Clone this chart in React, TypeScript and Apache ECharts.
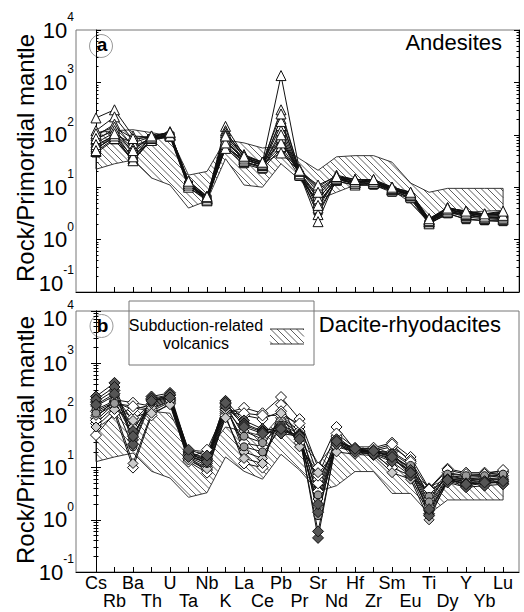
import React, { useEffect, useRef } from "react";
import * as echarts from "echarts";

const FONT = "'Liberation Sans', Arial, Helvetica, sans-serif";

// Element order (primordial-mantle normalised spider diagram)
const elements = ["Cs", "Rb", "Ba", "Th", "U", "Ta", "Nb", "K", "La", "Ce", "Pb", "Pr", "Sr", "Nd", "Hf", "Zr", "Sm", "Eu", "Ti", "Dy", "Y", "Yb", "Lu"];

// Subduction-related volcanics field, panel a
const fieldALower = [22, 28, 33, 15, 11, 4, 5.5, 35, 11, 10, 28, 14, 5.8, 8, 11, 11, 9, 5, 2.1, 3, 3.3, 3.5, 3.6];
const fieldAUpper = [110, 120, 125, 110, 95, 17, 20, 80, 70, 56, 60, 35, 21, 38, 40, 40, 30, 12, 8, 9.5, 9.5, 9.5, 9.5];

// Subduction-related volcanics field, panel b
const fieldBLower = [13, 16, 19, 8.5, 6.3, 2.7, 3.3, 16, 8.5, 6, 18, 9, 3.5, 4.5, 8.4, 8.4, 3.2, 3.2, 1.3, 2.4, 2.4, 2.4, 2.4];
const fieldBUpper = [55, 100, 140, 120, 110, 22, 20, 60, 50, 40, 100, 50, 12, 30, 25, 25, 18, 8, 4.3, 6, 6, 6, 6];

// Andesites (triangles)
const andesiteTriangles: number[][] = [
  [210, 300, 95, 90, 115, 12, 6.2, 145, 40, 30, 1350, 21, 9, 16, 14, 13, 10, 8, 2.4, 4.0, 3.5, 3.0, 3.4],
  [120, 220, 80, 95, 110, 11, 6.0, 120, 36, 28, 300, 20, 6, 15, 13, 13, 9.5, 7.5, 2.2, 3.8, 3.2, 3.0, 3.0],
  [95, 160, 60, 85, 100, 12, 5.8, 90, 34, 26, 200, 19, 4, 15, 12, 12, 9, 7, 2.1, 3.5, 3.0, 2.7, 2.6],
  [80, 130, 45, 88, 105, 13, 6.5, 75, 33, 27, 150, 18, 3, 14, 12, 13, 9, 7.2, 2.3, 3.6, 3.3, 2.8, 2.8],
  [70, 110, 35, 82, 100, 11, 6, 60, 30, 25, 120, 18, 2.2, 15, 11, 12, 9, 6.8, 2.0, 3.4, 2.7, 2.5, 2.4],
  [55, 90, 32, 80, 95, 10, 5.5, 65, 31, 24, 90, 17, 5, 14, 12, 12, 8.5, 6.5, 2.2, 3.3, 2.9, 2.6, 2.5],
  [48, 85, 40, 78, 98, 12, 6.2, 55, 35, 26, 60, 19, 7, 16, 13, 13, 9.5, 7, 2.4, 3.7, 3.1, 2.9, 3.1],
  [60, 100, 70, 92, 108, 13, 6.8, 110, 42, 30, 70, 22, 10, 17, 14, 14, 10, 7.8, 2.5, 4.1, 3.4, 3.1, 3.3],
  [105, 140, 85, 90, 100, 12, 6.0, 100, 38, 28, 45, 20, 11, 16, 13, 13, 9.6, 7.5, 2.4, 3.9, 3.4, 3.0, 3.2],
  [85, 120, 55, 85, 95, 11, 5.7, 80, 33, 27, 100, 18, 6, 15, 12, 12, 9, 7, 2.2, 3.5, 3.0, 2.6, 2.7],
  [65, 95, 38, 90, 110, 12, 6.3, 70, 36, 29, 180, 20, 4.5, 15, 13, 13, 9.4, 7.4, 2.3, 3.8, 3.2, 2.8, 2.9],
  [50, 105, 50, 95, 112, 13, 6.6, 95, 39, 30, 250, 21, 8, 16, 14, 14, 10, 8, 2.5, 4.0, 3.5, 3.1, 3.5],
];
// Andesites (squares)
const andesiteSquaresDark: number[] = [45, 80, 32, 85, 95, 11, 6, 60, 30, 23, 80, 17, 3.5, 13, 11, 11, 8.5, 6.3, 2.0, 3.2, 2.4, 2.3, 2.2];
const andesiteSquaresOpen: number[] = [55, 90, 33, 80, 90, 10, 5.8, 55, 28, 22, 55, 16, 5, 13, 11, 11, 8, 6, 2.0, 3.1, 2.5, 2.3, 2.3];

// Dacite-rhyodacites
const daciteWhite: number[][] = [
  [90, 200, 175, 150, 200, 14, 9, 110, 140, 110, 225, 85, 10, 60, 22, 24, 30, 16, 4, 9.5, 8, 8, 8.5],
  [42, 110, 10, 100, 170, 13, 8, 100, 12, 10, 160, 30, 6, 25, 20, 18, 10, 7, 3.5, 6, 5.5, 5.5, 6],
  [70, 150, 90, 120, 180, 15, 10, 120, 100, 85, 120, 60, 3.5, 40, 21, 20, 20, 12, 3, 8, 7, 7.5, 8],
  [120, 180, 130, 160, 210, 17, 12, 140, 30, 25, 90, 50, 5, 32, 22, 21, 25, 14, 2.5, 7, 6, 6.5, 7],
  [80, 170, 150, 130, 190, 15, 22, 130, 110, 100, 100, 70, 7, 45, 24, 22, 28, 13, 3.8, 9, 7.5, 7.5, 9],
];
const daciteGrey: number[][] = [
  [100, 160, 60, 140, 190, 16, 11, 130, 50, 35, 80, 45, 2.5, 30, 20, 20, 16, 10, 2, 6.5, 6, 6, 6.5],
  [150, 240, 80, 170, 220, 19, 13, 160, 20, 15, 70, 35, 1.8, 28, 19, 19, 14, 9, 1.8, 6.2, 5.5, 6, 6],
  [60, 130, 12, 110, 160, 14, 9.5, 90, 15, 12, 110, 25, 8, 20, 18, 17, 8, 6, 1.0, 5.8, 5, 5, 5.2],
];
const daciteCircles: number[][] = [
  [130, 190, 40, 180, 230, 18, 12, 150, 25, 20, 55, 40, 3, 33, 21, 20, 17, 10, 2.8, 7, 6.5, 6.8, 7.2],
  [110, 170, 25, 190, 240, 20, 14, 160, 40, 30, 65, 45, 1.2, 35, 22, 21, 19, 11, 2.2, 7.5, 7, 7, 7.5],
];
const daciteDark: number[][] = [
  [230, 420, 34, 230, 270, 20, 15, 190, 80, 55, 50, 42, 0.45, 35, 22, 20, 18, 9, 1.3, 6, 5, 5.5, 5],
  [180, 300, 50, 200, 240, 18, 14, 170, 70, 50, 60, 38, 0.6, 30, 21, 19, 15, 8, 1.5, 5.5, 4.5, 5, 5.5],
  [200, 350, 28, 210, 250, 16, 13, 150, 65, 48, 45, 40, 1.4, 28, 20, 18, 13, 7, 1.2, 5.2, 4.2, 4.5, 4.8],
  [160, 260, 40, 190, 220, 22, 17, 175, 60, 45, 55, 35, 2, 32, 23, 21, 16, 8, 1.6, 5.8, 4.8, 5.2, 5.5],
];

// hatch lines "\" (y = x + c in screen space) clipped to a polygon
function hatch(poly: number[][], step: number): number[][] {
  let cmin = Infinity;
  let cmax = -Infinity;
  for (const p of poly) {
    const c = p[1] - p[0];
    if (c < cmin) cmin = c;
    if (c > cmax) cmax = c;
  }
  const out: number[][] = [];
  for (let c = Math.ceil(cmin / step) * step; c <= cmax; c += step) {
    const pts: number[][] = [];
    for (let i = 0; i < poly.length; i++) {
      const p1 = poly[i];
      const p2 = poly[(i + 1) % poly.length];
      const f1 = p1[1] - p1[0] - c;
      const f2 = p2[1] - p2[0] - c;
      if ((f1 < 0) !== (f2 < 0)) {
        const t = f1 / (f1 - f2);
        pts.push([p1[0] + t * (p2[0] - p1[0]), p1[1] + t * (p2[1] - p1[1])]);
      }
    }
    pts.sort((a, b) => a[0] - b[0]);
    for (let k = 0; k + 1 < pts.length; k += 2) {
      out.push([pts[k][0], pts[k][1], pts[k + 1][0], pts[k + 1][1]]);
    }
  }
  return out;
}

const HATCH_STEP = 6.5;
const HATCH_COLOR = "#2a2a2a";
const EDGE_COLOR = "#222";

function fieldSeries(lower: number[], upper: number[], axisIdx: number) {
  return {
    type: "custom",
    xAxisIndex: axisIdx,
    yAxisIndex: axisIdx * 2,
    silent: true,
    z: 1,
    data: elements.map((_, i) => [i, lower[i], upper[i]]),
    encode: { x: 0, y: [1, 2] },
    renderItem: (params: any, api: any) => {
      const i = params.dataIndex;
      if (i >= elements.length - 1) return { type: "group", children: [] };
      const a = api.coord([i, lower[i]]);
      const b = api.coord([i + 1, lower[i + 1]]);
      const c = api.coord([i + 1, upper[i + 1]]);
      const d = api.coord([i, upper[i]]);
      const children: any[] = hatch([a, b, c, d], HATCH_STEP).map((s) => ({
        type: "line",
        shape: { x1: s[0], y1: s[1], x2: s[2], y2: s[3] },
        style: { stroke: HATCH_COLOR, lineWidth: 0.75 },
      }));
      const edge = (p: number[], q: number[]) => ({
        type: "line",
        shape: { x1: p[0], y1: p[1], x2: q[0], y2: q[1] },
        style: { stroke: EDGE_COLOR, lineWidth: 0.9 },
      });
      children.push(edge(a, b));
      children.push(edge(d, c));
      if (i === 0) children.push(edge(a, d));
      if (i === elements.length - 2) children.push(edge(b, c));
      return { type: "group", children };
    },
  };
}

function sampleSeries(vals: number[], axisIdx: number, symbol: string, size: number, fill: string) {
  return {
    type: "line",
    xAxisIndex: axisIdx,
    yAxisIndex: axisIdx * 2,
    data: vals.map((v, i) => [i, v]),
    symbol,
    symbolSize: size,
    showSymbol: true,
    silent: true,
    z: 3,
    lineStyle: { color: "#111", width: 1 },
    itemStyle: { color: fill, borderColor: "#111", borderWidth: 1 },
    emphasis: { disabled: true },
  };
}

const tickIdx = elements.map((_, i) => i);
const evenIdx = tickIdx.filter((i) => i % 2 === 0);
const oddIdx = tickIdx.filter((i) => i % 2 === 1);

const X_MIN = -1.08;
const X_MAX = 22.86;

function xAxis(gridIndex: number, showLabels: boolean) {
  return {
    type: "value",
    gridIndex,
    position: "bottom",
    min: X_MIN,
    max: X_MAX,
    axisLine: { show: true, lineStyle: { color: "#000", width: 1 } },
    axisTick: { show: true, inside: true, length: 5, customValues: tickIdx, lineStyle: { color: "#000" } },
    axisLabel: {
      show: showLabels,
      customValues: evenIdx,
      showMinLabel: true,
      showMaxLabel: true,
      hideOverlap: false,
      margin: 2,
      fontSize: 18,
      lineHeight: 18,
      color: "#000",
      fontFamily: FONT,
      formatter: (v: number) => elements[Math.round(v)],
    },
    splitLine: { show: false },
  };
}

// second row of staggered element labels
function xAxisLowerRow(gridIndex: number) {
  return {
    type: "value",
    gridIndex,
    position: "bottom",
    min: X_MIN,
    max: X_MAX,
    axisLine: { show: false },
    axisTick: { show: false },
    axisLabel: {
      show: true,
      customValues: oddIdx,
      showMinLabel: true,
      showMaxLabel: true,
      hideOverlap: false,
      margin: 20,
      fontSize: 18,
      lineHeight: 18,
      color: "#000",
      fontFamily: FONT,
      formatter: (v: number) => elements[Math.round(v)],
    },
    splitLine: { show: false },
  };
}

const yRich = {
  b: { fontSize: 22, lineHeight: 38, fontFamily: FONT, color: "#000" },
  s: { fontSize: 12, lineHeight: 12, verticalAlign: "top", fontFamily: FONT, color: "#000" },
  gUp: { fontSize: 10, lineHeight: 18 },
  gDown: { fontSize: 10, lineHeight: 14 },
};

function yAxis(gridIndex: number, position: "left" | "right") {
  return {
    type: "log",
    logBase: 10,
    gridIndex,
    position,
    min: 0.1,
    max: 10000,
    axisLine: { show: true, lineStyle: { color: "#000", width: 1 } },
    axisTick: { show: true, inside: true, length: 5, lineStyle: { color: "#000" } },
    minorTick: { show: true, splitNumber: 9, length: 2.5, lineStyle: { color: "#000" } },
    axisLabel: {
      show: position === "left",
      margin: 2,
      formatter: (v: number) => {
        const e = Math.round(Math.log10(v));
        const base = `{b|10}{s|${e}}`;
        // labels at the junction of the two panels are nudged apart
        if (gridIndex === 0 && e === -1) return `${base}\n{gUp| }`;
        if (gridIndex === 1 && e === 4) return `{gDown| }\n${base}`;
        return base;
      },
      rich: yRich,
    },
    splitLine: { show: false },
  };
}

function buildOption() {
  const legendPatch = [[270, 329], [304, 329], [304, 344], [270, 344]];
  const patchLines = hatch(legendPatch, HATCH_STEP).map((s) => ({
    type: "line",
    shape: { x1: s[0], y1: s[1], x2: s[2], y2: s[3] },
    style: { stroke: HATCH_COLOR, lineWidth: 0.75 },
  }));

  const series: any[] = [
    fieldSeries(fieldALower, fieldAUpper, 0),
    fieldSeries(fieldBLower, fieldBUpper, 1),
    sampleSeries(andesiteSquaresOpen, 0, "rect", 8, "#fff"),
    sampleSeries(andesiteSquaresDark, 0, "rect", 8, "#444"),
    ...andesiteTriangles.map((v) => sampleSeries(v, 0, "triangle", 10, "#fff")),
    ...daciteWhite.map((v) => sampleSeries(v, 1, "diamond", 11, "#fff")),
    ...daciteGrey.map((v) => sampleSeries(v, 1, "diamond", 10, "#ccc")),
    ...daciteCircles.map((v) => sampleSeries(v, 1, "circle", 8, "#999")),
    ...daciteDark.map((v) => sampleSeries(v, 1, "diamond", 11, "#555")),
  ];

  return {
    animation: false,
    backgroundColor: "#fff",
    textStyle: { fontFamily: FONT },
    grid: [
      { left: 76, top: 30, width: 443, height: 262, show: true, borderColor: "#777", borderWidth: 1 },
      { left: 76, top: 311, width: 443, height: 261, show: true, borderColor: "#777", borderWidth: 1 },
    ],
    xAxis: [xAxis(0, false), xAxis(1, true), xAxisLowerRow(1)],
    yAxis: [yAxis(0, "left"), yAxis(0, "right"), yAxis(1, "left"), yAxis(1, "right")],
    series,
    graphic: [
      {
        type: "text",
        x: 25,
        y: 158,
        rotation: Math.PI / 2,
        style: { text: "Rock/Primordial mantle", fontSize: 24, fontFamily: FONT, fill: "#000", align: "center", verticalAlign: "middle" },
      },
      {
        type: "text",
        x: 25,
        y: 440,
        rotation: Math.PI / 2,
        style: { text: "Rock/Primordial mantle", fontSize: 24, fontFamily: FONT, fill: "#000", align: "center", verticalAlign: "middle" },
      },
      { type: "circle", shape: { cx: 101, cy: 46, r: 11.5 }, style: { fill: "none", stroke: "#999", lineWidth: 1 } },
      { type: "text", x: 102, y: 44.5, style: { text: "a", fontSize: 19, fontWeight: "bold", fontFamily: FONT, fill: "#000", align: "center", verticalAlign: "middle" } },
      { type: "circle", shape: { cx: 101.5, cy: 326, r: 11.5 }, style: { fill: "none", stroke: "#999", lineWidth: 1 } },
      { type: "text", x: 102.5, y: 325, style: { text: "b", fontSize: 19, fontWeight: "bold", fontFamily: FONT, fill: "#000", align: "center", verticalAlign: "middle" } },
      { type: "text", x: 502, y: 42, style: { text: "Andesites", fontSize: 22, fontFamily: FONT, fill: "#000", align: "right", verticalAlign: "middle" } },
      { type: "text", x: 501, y: 324, style: { text: "Dacite-rhyodacites", fontSize: 22, fontFamily: FONT, fill: "#000", align: "right", verticalAlign: "middle" } },
      { type: "rect", shape: { x: 129, y: 301, width: 185, height: 64 }, style: { fill: "transparent", stroke: "#777", lineWidth: 1 } },
      { type: "text", x: 196, y: 325, style: { text: "Subduction-related", fontSize: 16, fontFamily: FONT, fill: "#000", align: "center", verticalAlign: "middle" } },
      { type: "text", x: 196, y: 343, style: { text: "volcanics", fontSize: 16, fontFamily: FONT, fill: "#000", align: "center", verticalAlign: "middle" } },
      { type: "group", children: patchLines },
      { type: "line", shape: { x1: 270, y1: 329, x2: 304, y2: 329 }, style: { stroke: EDGE_COLOR, lineWidth: 0.9 } },
      { type: "line", shape: { x1: 270, y1: 344, x2: 304, y2: 344 }, style: { stroke: EDGE_COLOR, lineWidth: 0.9 } },
    ],
  };
}

export default function App() {
  const ref = useRef<HTMLDivElement>(null);
  useEffect(() => {
    if (!ref.current) return;
    const chart = echarts.init(ref.current, null, { renderer: "svg" });
    chart.setOption(buildOption() as any);
    return () => chart.dispose();
  }, []);
  return <div ref={ref} style={{ position: "absolute", left: 0, top: 0, width: 524, height: 612, background: "#fff" }} />;
}
